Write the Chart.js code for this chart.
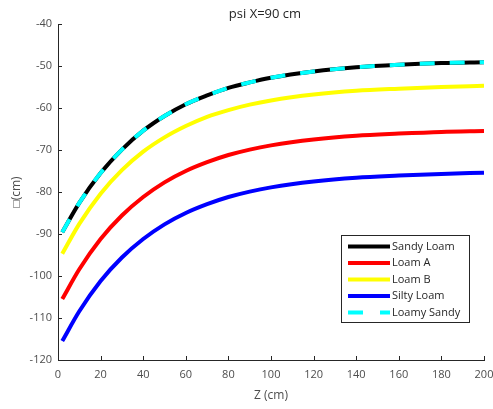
<!DOCTYPE html>
<html>
<head>
<meta charset="utf-8">
<script src="https://cdn.jsdelivr.net/npm/chart.js@4"></script>
<style>
  html, body { margin: 0; padding: 0; background: #fff; }
  #wrap { width: 493px; height: 409px; }
</style>
</head>
<body>
<div id="wrap"><canvas id="psiChart" width="493" height="409"></canvas></div>
<script>
// depth Z (cm)
var zValues = [2, 10, 20, 30, 40, 50, 60, 70, 80, 90, 100, 120, 140, 160, 180, 200];

var sandyLoam  = [-89.6, -82.6, -75.5, -69.9, -65.4, -61.9, -59.1, -57.0, -55.2, -53.9, -52.8, -51.3, -50.3, -49.7, -49.3, -49.1];
var loamA      = [-105.5, -98.4, -91.2, -85.6, -81.2, -77.7, -75.0, -72.9, -71.2, -69.9, -68.9, -67.5, -66.6, -66.1, -65.7, -65.5];
var loamB      = [-94.7, -87.6, -80.4, -74.8, -70.4, -67.0, -64.3, -62.1, -60.5, -59.2, -58.2, -56.8, -55.9, -55.4, -55.0, -54.7];
var siltyLoam  = [-115.5, -108.4, -101.2, -95.6, -91.2, -87.7, -85.0, -82.9, -81.2, -79.9, -78.9, -77.5, -76.6, -76.1, -75.7, -75.4];
var loamySandy = [-89.6, -82.6, -75.5, -69.9, -65.4, -61.9, -59.1, -57.0, -55.2, -53.9, -52.8, -51.3, -50.3, -49.7, -49.3, -49.1];

var xTicks = [0, 20, 40, 60, 80, 100, 120, 140, 160, 180, 200];
var yTicks = [-120, -110, -100, -90, -80, -70, -60, -50, -40];

var FONT = "'Open Sans', 'Noto Sans', sans-serif";
var TXT = '#4d4d4d';

function pts(ys) {
    return zValues.map(function (z, i) { return { x: z, y: ys[i] }; });
}

function line(label, ys, color, order, dash) {
    return {
        label: label,
        data: pts(ys),
        borderColor: color,
        backgroundColor: color,
        borderWidth: 4,
        borderDash: dash || [],
        pointRadius: 0,
        fill: false,
        cubicInterpolationMode: 'monotone',
        order: order
    };
}

// inward ticks + title + legend box, drawn on the canvas
var matlabLook = {
    id: 'matlabLook',
    afterDraw: function (chart) {
        var ctx = chart.ctx;
        var xs = chart.scales.x, ys = chart.scales.y;
        var a = chart.chartArea;
        ctx.save();
        ctx.strokeStyle = '#262626';
        ctx.lineWidth = 1;
        ctx.beginPath();
        xTicks.forEach(function (t) {
            var px = Math.round(xs.getPixelForValue(t)) + 0.5;
            ctx.moveTo(px, a.bottom);
            ctx.lineTo(px, a.bottom - 4);
        });
        yTicks.forEach(function (t) {
            var py = Math.round(ys.getPixelForValue(t)) + 0.5;
            ctx.moveTo(a.left, py);
            ctx.lineTo(a.left + 4, py);
        });
        ctx.stroke();

        // title
        ctx.fillStyle = '#262626';
        ctx.font = '13px ' + FONT;
        ctx.textAlign = 'center';
        ctx.textBaseline = 'middle';
        ctx.fillText('psi X=90 cm', 265, 14);

        // legend
        var bx = 341.5, by = 235.5, bw = 128, bh = 87;
        ctx.fillStyle = '#fff';
        ctx.fillRect(bx, by, bw, bh);
        ctx.strokeStyle = '#262626';
        ctx.strokeRect(bx, by, bw, bh);
        ctx.font = '11px ' + FONT;
        ctx.textAlign = 'left';
        chart.data.datasets.forEach(function (ds, i) {
            var y = 246.5 + i * 16.5;
            ctx.beginPath();
            ctx.strokeStyle = ds.borderColor;
            ctx.lineWidth = 4;
            ctx.setLineDash(ds.borderDash.length ? [15, 17] : []);
            ctx.moveTo(348, y);
            ctx.lineTo(390, y);
            ctx.stroke();
            ctx.setLineDash([]);
            ctx.fillStyle = '#262626';
            ctx.fillText(ds.label, 392, y);
        });
        ctx.restore();
    }
};

new Chart(document.getElementById('psiChart'), {
    type: 'line',
    data: {
        datasets: [
            line('Sandy Loam', sandyLoam, '#000000', 1),
            line('Loam A', loamA, '#ff0000', 2),
            line('Loam B', loamB, '#ffff00', 3),
            line('Silty Loam', siltyLoam, '#0000ff', 4),
            line('Loamy Sandy', loamySandy, '#00ffff', 0, [15, 15])
        ]
    },
    options: {
        responsive: false,
        animation: false,
        layout: { padding: { top: 24, right: 9, left: 0, bottom: 0 } },
        plugins: {
            legend: { display: false },
            title: { display: false },
            tooltip: { enabled: false }
        },
        scales: {
            x: {
                type: 'linear',
                min: 0,
                max: 200,
                afterFit: function (s) { s.height = 49; s.paddingLeft = 0; s.paddingRight = 0; },
                afterBuildTicks: function (s) { s.ticks = xTicks.map(function (v) { return { value: v }; }); },
                grid: { display: false, drawTicks: false },
                border: { display: true, color: '#262626', width: 1 },
                ticks: { color: TXT, font: { family: FONT, size: 11 }, padding: 8, maxRotation: 0 },
                title: { display: true, text: 'Z (cm)', color: TXT, font: { family: FONT, size: 12 }, padding: { top: 0, bottom: 6 } }
            },
            y: {
                type: 'linear',
                min: -120,
                max: -40,
                afterFit: function (s) { s.width = 58; s.paddingTop = 0; s.paddingBottom = 0; },
                afterBuildTicks: function (s) { s.ticks = yTicks.map(function (v) { return { value: v }; }); },
                grid: { display: false, drawTicks: false },
                border: { display: true, color: '#262626', width: 1 },
                ticks: { color: TXT, font: { family: FONT, size: 11 }, padding: 6 },
                title: { display: true, text: '\u25A1(cm)', color: TXT, font: { family: FONT, size: 12 }, padding: { top: 9, bottom: 0 } }
            }
        }
    },
    plugins: [matlabLook]
});
</script>
</body>
</html>
